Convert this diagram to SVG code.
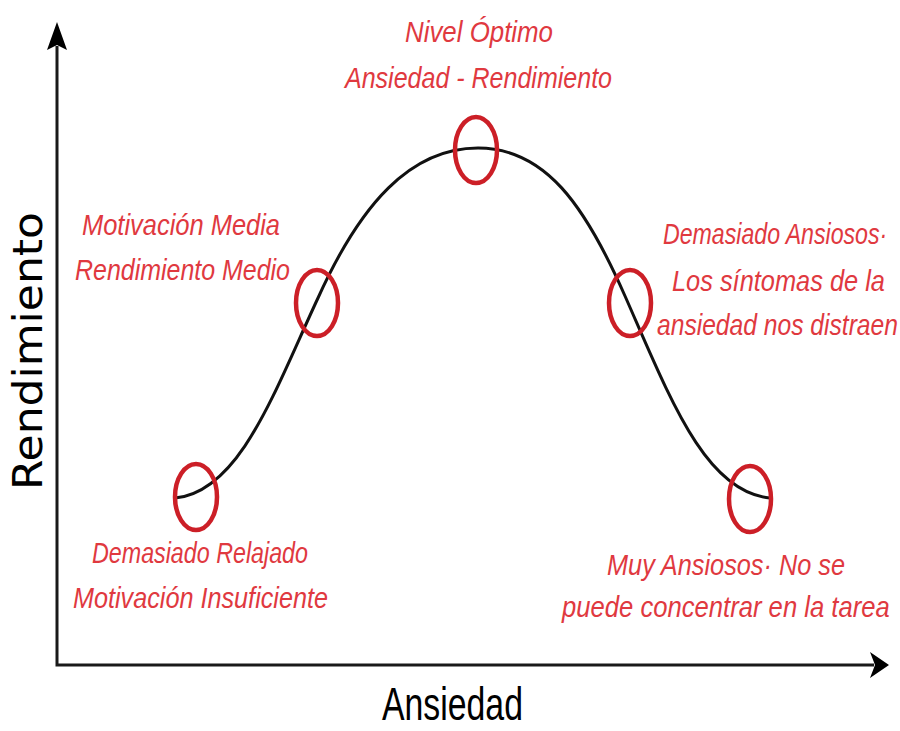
<svg xmlns="http://www.w3.org/2000/svg" width="900" height="731" viewBox="0 0 900 731">
<style>
.ax{fill:none;stroke:#1a1a1a;stroke-width:3}
.head{fill:#000}
.curve{fill:none;stroke:#111;stroke-width:3}
.ring{fill:none;stroke:#cc1f27;stroke-width:4.5}
.lbl{font-family:"Liberation Sans","DejaVu Sans",sans-serif;font-style:italic;font-size:30px;fill:#e0393f;text-anchor:start}
.axl{font-family:"Liberation Sans",Arial,sans-serif;font-size:46px;fill:#000}
.ayl{font-family:"DejaVu Sans",Verdana,sans-serif;font-size:40px;fill:#000}
</style>
<rect width="900" height="731" fill="#fff"/>
<g id="axes">
<path class="ax" d="M57,46 V665 H874"/>
<polygon class="head" points="57,22 67,50 57,45 47,50"/>
<polygon class="head" points="889,665 870,678 875,665 870,652"/>
<text class="axl" transform="translate(382,720) scale(0.735,1)" x="0" y="0">Ansiedad</text>
<text class="ayl" transform="translate(42,490) rotate(-90)" x="0" y="0" textLength="278" lengthAdjust="spacingAndGlyphs">Rendimiento</text>
</g>
<g id="connectors">
<path class="curve" d="M175,498 C240,492 275,390 318,298 C360,205 410,148 478,148 C545,148 585,205 625,296 C670,398 705,492 770,498"/>
</g>
<g id="node-optimo">
<ellipse class="ring" cx="476" cy="150" rx="21" ry="33"/>
<text class="lbl" x="405" y="42" textLength="148" lengthAdjust="spacingAndGlyphs">Nivel Óptimo</text>
<text class="lbl" x="345" y="88" textLength="267" lengthAdjust="spacingAndGlyphs">Ansiedad - Rendimiento</text>
</g>
<g id="node-media">
<ellipse class="ring" cx="317" cy="303" rx="21" ry="33"/>
<text class="lbl" x="82" y="235" textLength="198" lengthAdjust="spacingAndGlyphs">Motivación Media</text>
<text class="lbl" x="75" y="280" textLength="215" lengthAdjust="spacingAndGlyphs">Rendimiento Medio</text>
</g>
<g id="node-ansiosos">
<ellipse class="ring" cx="630" cy="303" rx="21" ry="33"/>
<text class="lbl" transform="translate(663,244) scale(0.772,1)" x="0" y="0">Demasiado Ansiosos·</text>
<text class="lbl" transform="translate(672,291) scale(0.846,1)" x="0" y="0">Los síntomas de la</text>
<text class="lbl" transform="translate(657,335) scale(0.821,1)" x="0" y="0">ansiedad nos distraen</text>
</g>
<g id="node-relajado">
<ellipse class="ring" cx="196" cy="497" rx="21" ry="33"/>
<text class="lbl" x="92" y="563" textLength="216" lengthAdjust="spacingAndGlyphs">Demasiado Relajado</text>
<text class="lbl" x="73" y="608" textLength="255" lengthAdjust="spacingAndGlyphs">Motivación Insuficiente</text>
</g>
<g id="node-muy-ansiosos">
<ellipse class="ring" cx="750" cy="499" rx="21" ry="33"/>
<text class="lbl" x="607" y="575" textLength="238" lengthAdjust="spacingAndGlyphs">Muy Ansiosos· No se</text>
<text class="lbl" transform="translate(562,617) scale(0.855,1)" x="0" y="0">puede concentrar en la tarea</text>
</g>
</svg>
